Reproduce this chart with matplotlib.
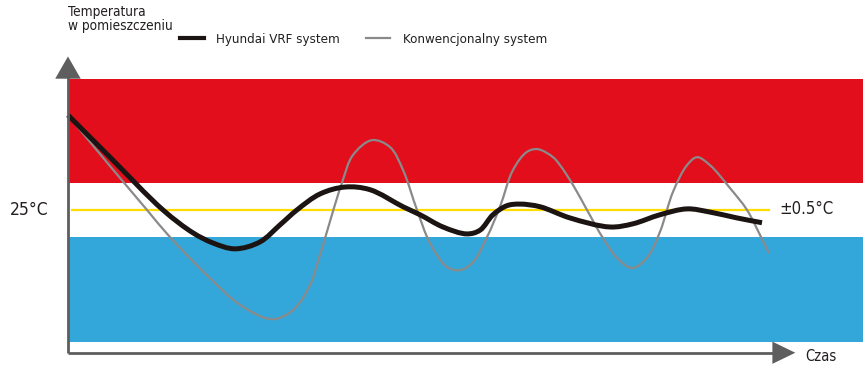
import numpy as np
import matplotlib.pyplot as plt
from matplotlib.lines import Line2D
from matplotlib.path import Path
from matplotlib.patches import PathPatch

plt.rcParams['font.family'] = ['DejaVu Sans']
plt.rcParams['font.stretch'] = 'condensed'

# Time (arbitrary units) and room temperature (degC) for both systems
t_vrf = [0.0, 6.0, 13.57, 17.86, 20.71, 23.86, 27.43, 30.29, 32.71, 36.0,
         39.57, 43.14, 47.86, 50.29, 53.57, 57.0, 58.86, 60.71, 62.71, 64.57,
         67.43, 71.71, 77.43, 80.71, 84.57, 88.43, 91.71, 95.57, 99.14]
temp_vrf = [26.78, 25.99, 25.00, 24.57, 24.38, 24.27, 24.40, 24.72, 25.00,
            25.30, 25.43, 25.38, 25.06, 24.91, 24.68, 24.55, 24.62, 24.91,
            25.08, 25.11, 25.06, 24.85, 24.68, 24.74, 24.91, 25.02, 24.96,
            24.85, 24.76]

t_conv = [0.0, 4.57, 8.14, 11.29, 14.57, 20.29, 24.57, 29.14, 32.14, 34.57,
          36.0, 39.14, 40.71, 43.43, 46.0, 47.86, 49.86, 51.71, 54.14, 56.0,
          57.86, 59.86, 61.71, 63.57, 65.57, 67.14, 69.29, 70.29, 72.14,
          74.14, 76.43, 78.43, 80.57, 82.71, 84.57, 86.43, 88.43, 89.86,
          91.71, 94.57, 97.0, 98.86, 100.14]
temp_conv = [26.78, 26.05, 25.49, 25.00, 24.49, 23.72, 23.22, 22.95, 23.12,
             23.59, 24.16, 25.51, 26.03, 26.31, 26.18, 25.75, 25.00, 24.38,
             23.93, 23.87, 24.02, 24.49, 25.06, 25.75, 26.09, 26.14, 25.99,
             25.84, 25.47, 25.00, 24.47, 24.10, 23.91, 24.10, 24.59, 25.34,
             25.84, 25.99, 25.84, 25.41, 25.00, 24.53, 24.19]

setpoint = 25.0
tolerance = 0.5
too_hot = (setpoint + tolerance, 27.45)
too_cold = (22.53, setpoint - tolerance)

txt = '#231f20'
axis_col = '#5e5e5e'


def smooth_path(x, y, sx=7.0, sy=53.3):
    # centripetal Catmull-Rom through the points, as cubic Bezier segments;
    # sx, sy give the on-screen size of one unit so the knot spacing is even
    p = np.column_stack([x, y]).astype(float)
    p = np.vstack([2 * p[0] - p[1], p, 2 * p[-1] - p[-2]])
    scale = np.array([sx, sy])
    verts = [p[1]]
    codes = [Path.MOVETO]
    for i in range(1, len(p) - 2):
        p0, p1, p2, p3 = p[i - 1], p[i], p[i + 1], p[i + 2]
        d1 = np.linalg.norm((p1 - p0) * scale) ** 0.5
        d2 = np.linalg.norm((p2 - p1) * scale) ** 0.5
        d3 = np.linalg.norm((p3 - p2) * scale) ** 0.5
        b1 = (d1**2 * p2 - d2**2 * p0 + (2 * d1**2 + 3 * d1 * d2 + d2**2) * p1) / (3 * d1 * (d1 + d2))
        b2 = (d3**2 * p1 - d2**2 * p3 + (2 * d3**2 + 3 * d3 * d2 + d2**2) * p2) / (3 * d3 * (d3 + d2))
        verts += [b1, b2, p2]
        codes += [Path.CURVE4] * 3
    return Path(verts, codes)


fig = plt.figure(figsize=(8.63, 3.65), dpi=100)
ax = fig.add_axes([0, 0, 1, 1])
ax.set_xlim(-9.71, 113.57)
ax.set_ylim(22.09, 28.94)
ax.axis('off')

# comfort bands
ax.fill_between([0.15, 113.57], *too_hot, color='#e20e1c', lw=0, zorder=1)
ax.fill_between([0.15, 113.57], *too_cold, color='#33a7da', lw=0, zorder=1)
ax.plot([0.6, 100.1], [setpoint, setpoint], color='#ffdd00', lw=1.6, zorder=2)

ax.add_patch(PathPatch(smooth_path(t_conv, temp_conv), fill=False,
                       edgecolor='#8a8a8a', lw=1.6, zorder=3))
ax.add_patch(PathPatch(smooth_path(t_vrf, temp_vrf), fill=False,
                       edgecolor='#1c1412', lw=3.6, capstyle='butt', zorder=4))

# axes with arrow heads
y0 = 22.32
ax.plot([0, 0], [y0, 27.5], color=axis_col, lw=2.0, solid_capstyle='butt', zorder=5)
ax.plot([0, 101], [y0, y0], color=axis_col, lw=2.0, solid_capstyle='butt', zorder=5)
ax.annotate('', xy=(0, 27.88), xytext=(0, 27.4),
            arrowprops=dict(arrowstyle='-|>,head_length=1.6,head_width=0.92',
                            color=axis_col, lw=0, mutation_scale=10, shrinkA=0, shrinkB=0),
            zorder=6)
ax.annotate('', xy=(103.9, y0), xytext=(100.5, y0),
            arrowprops=dict(arrowstyle='-|>,head_length=1.65,head_width=0.8',
                            color=axis_col, lw=0, mutation_scale=10, shrinkA=0, shrinkB=0),
            zorder=6)

ax.text(0, 28.84, 'Temperatura\nw pomieszczeniu', fontsize=9.8, color=txt,
        ha='left', va='top', linespacing=1.0)
ax.text(-8.3, setpoint, '25°C', fontsize=12.5, color=txt, ha='left', va='center')
ax.text(101.6, setpoint + 0.02, '±0.5°C', fontsize=12, color=txt, ha='left', va='center')
ax.text(105.3, 22.25, 'Czas', fontsize=10.5, color=txt, ha='left', va='center')

handles = [Line2D([], [], color='#1c1412', lw=3.0),
           Line2D([], [], color='#8a8a8a', lw=1.6)]
ax.legend(handles, ['Hyundai VRF system', 'Konwencjonalny system'], ncol=2,
          loc='center left', bbox_to_anchor=(180 / 863, 1 - 39 / 365),
          frameon=False, fontsize=9.5, handlelength=1.8, handletextpad=0.95,
          columnspacing=2.0, borderpad=0, borderaxespad=0, labelcolor=txt)

fig.savefig('out.png', dpi=100)
